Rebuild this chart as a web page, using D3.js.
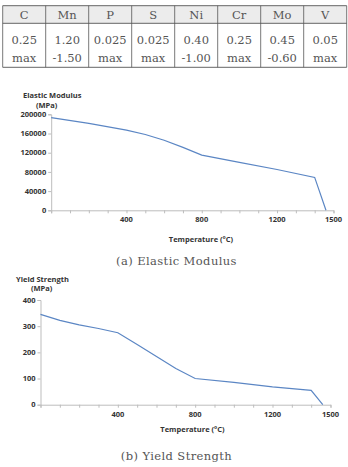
<!DOCTYPE html>
<html>
<head>
<meta charset="utf-8">
<script src="https://cdn.jsdelivr.net/npm/d3@7"></script>
<style>
  body { margin: 0; background: #fff; }
  svg { display: block; }
</style>
</head>
<body>
<svg id="fig" width="348" height="467"></svg>
<script>
// chemical composition table
let elements = ['C', 'Mn', 'P', 'S', 'Ni', 'Cr', 'Mo', 'V'];
let compTop = ['0.25', '1.20', '0.025', '0.025', '0.40', '0.25', '0.45', '0.05'];
let compBottom = ['max', '-1.50', 'max', 'max', '-1.00', 'max', '-0.60', 'max'];

// temperature curves
let modTemp = [0, 200, 400, 500, 600, 700, 800, 1000, 1200, 1400, 1460];
let modValue = [193000, 181000, 167000, 158000, 146000, 131000, 115000, 100000, 85000, 68500, 0];
let yieldTemp = [0, 100, 200, 300, 400, 500, 600, 700, 800, 1000, 1200, 1400, 1460];
let yieldValue = [345, 322, 305, 291, 275, 230, 184, 138, 100, 85, 68, 55, 0];

let xLabels = [400, 800, 1200, 1500];
let modTicks = [0, 40000, 80000, 120000, 160000, 200000];
let yieldTicks = [0, 100, 200, 300, 400];

let svg = d3.select('#fig');

// ---- table ----
let tx = d3.scaleBand().domain(elements).range([2.7, 346.7]);
let table = svg.append('g');
table.append('rect')
    .attr('x', 2.7).attr('y', 5.7).attr('width', 344).attr('height', 17.6)
    .attr('fill', '#ececec');
table.selectAll('line.v')
    .data(elements.concat(['end']))
    .enter().append('line')
    .attr('x1', function(d, i){ return i < elements.length ? tx(d) : 346.7; })
    .attr('x2', function(d, i){ return i < elements.length ? tx(d) : 346.7; })
    .attr('y1', 5.7).attr('y2', 67.3)
    .attr('stroke', '#555').attr('stroke-width', 0.8);
[5.7, 23.3, 67.3].forEach(function(y){
    table.append('line').attr('x1', 2.7).attr('x2', 346.7).attr('y1', y).attr('y2', y)
        .attr('stroke', '#555').attr('stroke-width', 0.9);
});
let cellText = function(arr, y){
    table.selectAll(null).data(arr).enter().append('text')
        .attr('x', function(d, i){ return tx(elements[i]) + tx.bandwidth()/2; })
        .attr('y', y)
        .attr('text-anchor', 'middle')
        .attr('font-family', 'DejaVu Serif, Liberation Serif, serif')
        .attr('font-size', 11.5)
        .attr('fill', '#555')
        .text(function(d){ return d; });
};
cellText(elements, 19);
cellText(compTop, 44);
cellText(compBottom, 61.5);

// ---- charts ----
function drawChart(opt){
    let g = svg.append('g');
    let x = d3.scaleLinear().domain([0, 1500]).range([opt.x0, opt.x1]);
    let y = d3.scaleLinear().domain([0, opt.ymax]).range([opt.y0, opt.y1]);

    g.append('g')
        .attr('transform', 'translate(0,' + opt.y0 + ')')
        .call(d3.axisBottom(x).tickValues(d3.range(0, 1501, 100)).tickSize(3).tickFormat(''))
        .call(function(a){
            a.selectAll('line, path').attr('stroke', '#bdbdbd');
        });
    g.append('g')
        .attr('transform', 'translate(' + opt.x0 + ',0)')
        .call(d3.axisLeft(y).tickValues(opt.ticks).tickSize(3).tickFormat(''))
        .call(function(a){
            a.selectAll('line, path').attr('stroke', '#bdbdbd');
        });

    let font = 'Open Sans, Liberation Sans, sans-serif';
    g.selectAll('text.xl').data(xLabels).enter().append('text')
        .attr('x', function(d){ return x(d); })
        .attr('y', opt.y0 + 12)
        .attr('text-anchor', 'middle')
        .attr('font-family', font).attr('font-size', 7.5).attr('font-weight', 'bold')
        .attr('fill', '#333')
        .text(function(d){ return d; });
    g.selectAll('text.yl').data(opt.ticks).enter().append('text')
        .attr('x', opt.x0 - 5)
        .attr('y', function(d){ return y(d) + 2.7; })
        .attr('text-anchor', 'end')
        .attr('font-family', font).attr('font-size', 7.5).attr('font-weight', 'bold')
        .attr('fill', '#333')
        .text(function(d){ return d; });

    g.append('path')
        .datum(d3.zip(opt.temp, opt.vals))
        .attr('fill', 'none')
        .attr('stroke', '#5b86c4')
        .attr('stroke-width', 1.2)
        .attr('d', d3.line().x(function(d){ return x(d[0]); }).y(function(d){ return y(d[1]); }));

    g.append('text').attr('x', opt.tx).attr('y', opt.ty)
        .attr('font-family', font).attr('font-size', 7.5).attr('font-weight', 'bold').attr('fill', '#333')
        .text(opt.title);
    g.append('text').attr('x', opt.ux).attr('y', opt.ty + 9.5)
        .attr('font-family', font).attr('font-size', 7.5).attr('font-weight', 'bold').attr('fill', '#333')
        .text('(MPa)');
    g.append('text').attr('x', opt.xlx).attr('y', opt.xly)
        .attr('text-anchor', 'middle')
        .attr('font-family', font).attr('font-size', 7.5).attr('font-weight', 'bold').attr('fill', '#333')
        .text('Temperature (°C)');
    g.append('text').attr('x', 176.5).attr('y', opt.cy)
        .attr('text-anchor', 'middle')
        .attr('font-family', 'DejaVu Serif, Liberation Serif, serif')
        .attr('font-size', 11.5).attr('letter-spacing', 0.4).attr('fill', '#555')
        .text(opt.caption);
}

drawChart({
    x0: 51.2, x1: 333.5, y0: 210.3, y1: 114.3, ymax: 200000, ticks: modTicks,
    temp: modTemp, vals: modValue,
    title: 'Elastic Modulus', tx: 23, ux: 36, ty: 98,
    xlx: 201, xly: 242, caption: '(a)  Elastic  Modulus', cy: 265
});
drawChart({
    x0: 40.5, x1: 330.5, y0: 404.7, y1: 300, ymax: 400, ticks: yieldTicks,
    temp: yieldTemp, vals: yieldValue,
    title: 'Yield Strength', tx: 16, ux: 31, ty: 281.5,
    xlx: 192.5, xly: 432, caption: '(b)  Yield  Strength', cy: 460
});
</script>
</body>
</html>
